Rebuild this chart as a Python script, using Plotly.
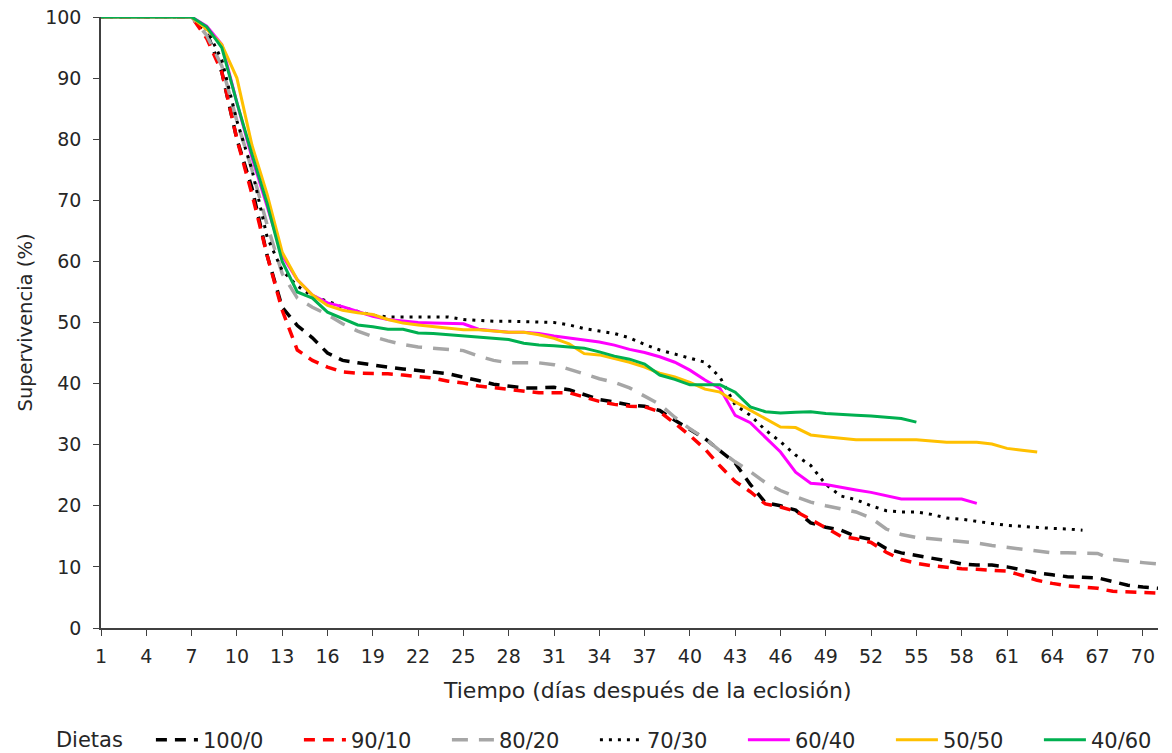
import plotly.graph_objects as go

days_full = list(range(1, 72))

s100_0 = [100, 100, 100, 100, 100, 100, 100, 97.5, 91, 80, 72, 61, 52.5, 49.5, 47.5, 45, 43.8, 43.4, 43, 42.7,
          42.4, 42.2, 41.9, 41.6, 41.1, 40.5, 39.9, 39.6, 39.3, 39.3, 39.4, 39, 38.2, 37.4, 37, 36.5, 36.3, 35.6, 34, 32.5,
          31, 29, 27, 23.5, 20.5, 20, 19.3, 17.2, 16.5, 16, 15, 14.5, 13, 12.3, 11.9, 11.5, 11, 10.5, 10.3, 10.3,
          10, 9.5, 9, 8.7, 8.4, 8.3, 8.2, 7.6, 7, 6.7, 6.5]
s90_10 = [100, 100, 100, 100, 100, 100, 100, 96.5, 91, 80, 71, 61, 52, 45.5, 43.8, 42.7, 41.9, 41.7, 41.7, 41.6,
          41.4, 41.1, 40.9, 40.4, 40.1, 39.6, 39.3, 39.1, 38.8, 38.5, 38.5, 38.5, 37.8, 37.1, 36.6, 36.3, 36.2, 35.4, 33.5, 31.5,
          29.3, 26.5, 24, 22.3, 20.3, 19.8, 19.1, 17.8, 16.4, 15, 14.6, 14, 12.4, 11.2, 10.6, 10.2, 9.9, 9.7, 9.6, 9.4,
          9.3, 8.6, 7.8, 7.3, 6.9, 6.7, 6.5, 6, 5.9, 5.7, 5.7]
s80_20 = [100, 100, 100, 100, 100, 100, 100, 97, 92, 83, 75, 66, 58, 54, 52.5, 51.3, 49.8, 48.6, 47.7, 47,
          46.4, 46, 45.8, 45.6, 45.4, 44.5, 43.8, 43.4, 43.4, 43.4, 43.1, 42.4, 41.6, 40.8, 40.2, 39.3, 38, 36.6, 34.5, 32.6,
          31, 29, 27.2, 25.6, 23.8, 22.5, 21.5, 20.6, 20, 19.5, 19, 18, 16.2, 15.3, 14.8, 14.6, 14.4, 14.1, 13.9, 13.5,
          13.2, 13, 12.6, 12.3, 12.3, 12.3, 12.2, 11.2, 10.9, 10.7, 10.5]
s70_30 = [100, 100, 100, 100, 100, 100, 100, 98, 93, 83, 75, 64, 58.5, 56, 54.3, 53.5, 52.5, 51.8, 51.2, 50.9,
          50.9, 50.9, 50.9, 50.9, 50.5, 50.3, 50.2, 50.2, 50.1, 50.1, 50, 49.6, 49, 48.6, 48.2, 47.5, 46.4, 45.5, 44.8, 44.2,
          43.5, 41, 36.5, 34.8, 32.4, 30.5, 28.3, 26.6, 23.5, 21.6, 21, 20, 19.2, 19, 19, 18.6, 18, 17.8, 17.4, 17.1,
          16.8, 16.6, 16.4, 16.3, 16.2, 16]
s60_40 = [100, 100, 100, 100, 100, 100, 100, 98.5, 95.5, 86, 77, 69, 61, 57, 54.5, 53.2, 52.6, 51.8, 51, 50.5,
          50.2, 50, 49.9, 49.9, 49.8, 48.9, 48.6, 48.4, 48.4, 48.2, 47.8, 47.5, 47.2, 46.8, 46.3, 45.6, 45.1, 44.4, 43.5, 42.2,
          40.6, 39.2, 34.8, 33.6, 31.2, 28.8, 25.5, 23.7, 23.5, 23, 22.6, 22.2, 21.6, 21.1, 21.1, 21.1, 21.1, 21.1, 20.4]
s50_50 = [100, 100, 100, 100, 100, 100, 100, 98, 95.5, 90, 79, 71, 61.5, 57, 54.5, 52.8, 52, 51.6, 51.3, 50.5,
          49.9, 49.6, 49.3, 49, 48.8, 48.8, 48.6, 48.4, 48.4, 48, 47.4, 46.5, 44.9, 44.7, 44.1, 43.5, 42.7, 41.7, 41.1, 40.2,
          39.1, 38.6, 37, 35.6, 34.2, 32.9, 32.8, 31.6, 31.3, 31, 30.8, 30.8, 30.8, 30.8, 30.8, 30.6, 30.4, 30.4, 30.4, 30.1,
          29.4, 29.1, 28.8]
s40_60 = [100, 100, 100, 100, 100, 100, 100, 98.4, 95, 86, 77.5, 69.5, 60, 55, 54, 51.7, 50.7, 49.6, 49.3, 48.9,
          48.9, 48.3, 48.2, 48, 47.8, 47.6, 47.5, 47.2, 46.6, 46.3, 46.2, 46, 45.8, 45.2, 44.5, 44, 43.2, 41.4, 40.7, 39.8,
          39.8, 39.8, 38.6, 36.2, 35.4, 35.2, 35.3, 35.4, 35.1, 34.9, 34.8, 34.7, 34.5, 34.3, 33.7]

names = ["100/0", "90/10", "80/20", "70/30", "60/40", "50/50", "40/60"]
series = [s100_0, s90_10, s80_20, s70_30, s60_40, s50_50, s40_60]
colors = ["#000000", "#FF0000", "#A6A6A6", "#000000", "#FF00FF", "#FFC000", "#00B050"]
dashes = ["11px,8px", "11px,8px", "16px,11px", "3px,6px", "solid", "solid", "solid"]
widths = [3.5, 3.5, 3.5, 3, 3, 3, 3]

x_ticks = list(range(1, 71, 3))
y_ticks = list(range(0, 101, 10))

FONT = "DejaVu Sans, Arial, sans-serif"
TXT = "#262626"

fig = go.Figure()
for n, s, c, d, w in zip(names, series, colors, dashes, widths):
    fig.add_trace(go.Scatter(
        x=days_full[:len(s)], y=s, mode="lines", name=n,
        line=dict(color=c, dash=d, width=w),
    ))

fig.update_layout(
    width=1172, height=753,
    margin=dict(l=101, r=14, t=17, b=125),
    paper_bgcolor="white", plot_bgcolor="white",
    font=dict(family=FONT, size=19, color=TXT),
    showlegend=True,
    legend=dict(
        orientation="h", xref="container", yref="container",
        x=0.046, y=(753 - 740) / 753, xanchor="left", yanchor="middle",
        title=dict(text="Dietas   ", font=dict(family=FONT, size=21, color=TXT)),
        font=dict(family=FONT, size=21, color=TXT),
        itemwidth=42, entrywidth=91, entrywidthmode="pixels",
        traceorder="normal",
    ),
    xaxis=dict(
        range=[1, 71], tickmode="array", tickvals=x_ticks, ticktext=[str(t) for t in x_ticks],
        showline=True, linecolor="#404040", linewidth=1.5, ticks="outside", ticklen=6,
        tickcolor="#404040", showgrid=False, zeroline=False, automargin=False,
        ticklabelstandoff=4,
        tickfont=dict(family=FONT, size=19, color=TXT),
    ),
    yaxis=dict(
        range=[0, 100], tickmode="array", tickvals=y_ticks,
        showline=True, linecolor="#404040", linewidth=1.5, ticks="outside", ticklen=6,
        tickcolor="#404040", showgrid=False, zeroline=False, automargin=False,
        ticklabelstandoff=8,
        tickfont=dict(family=FONT, size=19, color=TXT),
    ),
    annotations=[
        dict(text="Tiempo (días después de la eclosión)", xref="paper", yref="paper",
             x=(647 - 101) / 1057, y=-(690 - 628) / 611, xanchor="center", yanchor="middle", showarrow=False,
             font=dict(family=FONT, size=22, color=TXT)),
        dict(text="Supervivencia (%)", xref="paper", yref="paper",
             x=(25 - 101) / 1057, y=0.5, xanchor="center", yanchor="middle", showarrow=False,
             textangle=-90, font=dict(family=FONT, size=19.5, color=TXT)),
    ],
)

fig.write_html("out.html")
